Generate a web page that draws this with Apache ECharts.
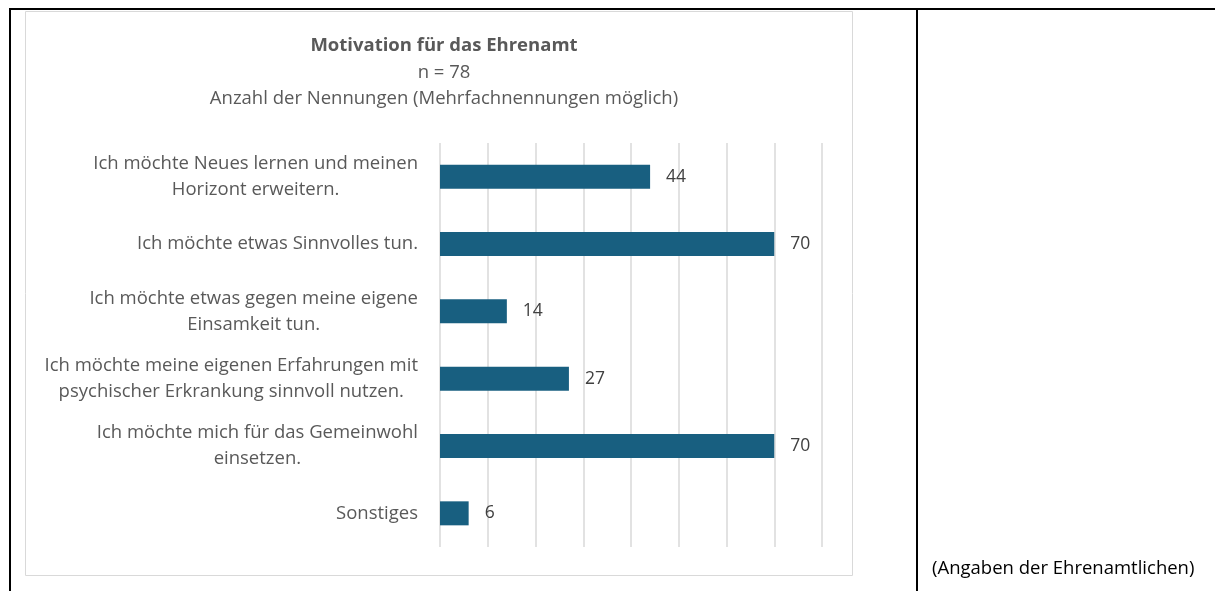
<!DOCTYPE html>
<html>
<head>
<meta charset="utf-8">
<script src="https://cdn.jsdelivr.net/npm/echarts@6/dist/echarts.min.js"></script>
<style>
  html, body { margin: 0; padding: 0; background: #fff; }
  #chart { width: 1215px; height: 591px; }
</style>
</head>
<body>
<div id="chart"></div>
<script>
// Kategorien von oben nach unten
const categories = [
  'Ich möchte Neues lernen und meinen\nHorizont erweitern.',
  'Ich möchte etwas Sinnvolles tun.',
  'Ich möchte etwas gegen meine eigene\nEinsamkeit tun.',
  'Ich möchte meine eigenen Erfahrungen mit\npsychischer Erkrankung sinnvoll nutzen.',
  'Ich möchte mich für das Gemeinwohl\neinsetzen.',
  'Sonstiges',
];
const nennungen = [44, 70, 14, 27, 70, 6];
const axisMax = 80;
const axisStep = 10;

const chartTitle = 'Motivation für das Ehrenamt';
const chartSubtitle = 'n = 78\nAnzahl der Nennungen (Mehrfachnennungen möglich)';
const sourceNote = '(Angaben der Ehrenamtlichen)';

const font = '"Open Sans", "Noto Sans", sans-serif';
const grey = '#595959';
const fs = 18.5;

const myChart = echarts.init(document.getElementById('chart'));
const options = {
  animation: false,
  textStyle: { fontFamily: font },
  title: {
    text: chartTitle,
    subtext: chartSubtitle,
    left: 439,
    top: 28,
    textAlign: 'center',
    itemGap: 1,
    textStyle: { fontSize: fs, fontWeight: 'bold', color: grey, lineHeight: 26, fontFamily: font },
    subtextStyle: { fontSize: fs, color: grey, lineHeight: 26, fontFamily: font },
  },
  graphic: [
    // Tabellenrahmen
    { type: 'line', shape: { x1: 9, y1: 9, x2: 1215, y2: 9 }, style: { stroke: '#000', lineWidth: 2 } },
    { type: 'line', shape: { x1: 10, y1: 9, x2: 10, y2: 591 }, style: { stroke: '#000', lineWidth: 2 } },
    { type: 'line', shape: { x1: 917, y1: 9, x2: 917, y2: 591 }, style: { stroke: '#000', lineWidth: 2 } },
    // Diagrammrahmen
    { type: 'rect', shape: { x: 25.5, y: 11.5, width: 827, height: 564 }, style: { fill: null, stroke: '#d9d9d9', lineWidth: 1 } },
    {
      type: 'text', left: 932, top: 559,
      style: { text: sourceNote, fontSize: fs, fill: '#000', fontFamily: font },
    },
  ],
  grid: { left: 440, top: 143, width: 382, height: 404, containLabel: false },
  xAxis: {
    type: 'value',
    min: 0,
    max: axisMax,
    interval: axisStep,
    axisLabel: { show: false },
    axisLine: { show: false },
    axisTick: { show: false },
    splitLine: { lineStyle: { color: '#d9d9d9', width: 1.5 } },
  },
  yAxis: {
    type: 'category',
    data: categories,
    inverse: true,
    axisLine: { show: false },
    axisTick: { show: false },
    axisLabel: {
      margin: 22,
      fontSize: fs,
      color: grey,
      lineHeight: 26,
      formatter: value => value.split('\n').map(l => '{c|' + l + '}').join('\n'),
      rich: { c: { align: 'center', fontSize: fs, color: grey, lineHeight: 26, fontFamily: font } },
    },
  },
  series: [{
    type: 'bar',
    data: nennungen,
    barWidth: 24,
    itemStyle: { color: '#185f80' },
    label: {
      show: true,
      position: 'right',
      distance: 16,
      fontSize: 17.5,
      color: '#404040',
      fontFamily: font,
    },
  }],
};
myChart.setOption(options);
</script>
</body>
</html>
